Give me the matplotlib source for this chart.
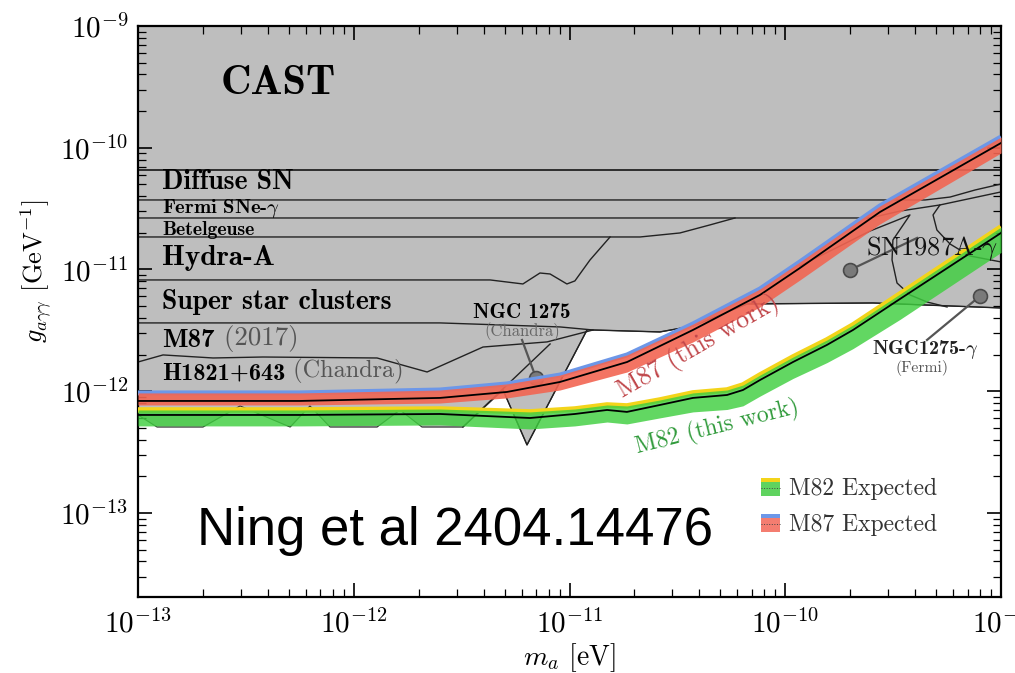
import numpy as np
import matplotlib
matplotlib.use("Agg")
import matplotlib.pyplot as plt
from matplotlib.legend_handler import HandlerBase
from matplotlib.patches import Rectangle
from matplotlib.lines import Line2D

plt.rcParams['mathtext.fontset'] = 'cm'
plt.rcParams['font.family'] = 'cmr10'
plt.rcParams['axes.formatter.use_mathtext'] = True

# ---------------- data (log10 m_a [eV], log10 g [GeV^-1]) ----------------
# M87 (this work): observed limit and expected band
m87_logm = [-13.0, -12.249, -11.600, -11.290, -11.044, -10.733, -10.428, -10.117, -9.932, -9.561, -9.0]
m87_obs = [-12.080, -12.080, -12.055, -12.006, -11.924, -11.760, -11.497, -11.209, -10.988, -10.528, -9.961]
m87_exp_hi = [-12.014, -12.014, -11.990, -11.940, -11.867, -11.702, -11.448, -11.160, -10.938, -10.478, -9.912]
m87_exp_lo = [-12.113, -12.113, -12.097, -12.055, -11.990, -11.842, -11.595, -11.308, -11.086, -10.626, -10.043]

# M82 (this work): observed limit and expected band
m82_logm = [-13.0, -12.249, -11.600, -11.183, -10.975, -10.826, -10.734, -10.581, -10.428, -10.270,
            -10.196, -10.117, -9.964, -9.807, -9.686, -9.468, -9.0]
m82_obs = [-12.195, -12.195, -12.187, -12.220, -12.187, -12.154, -12.170, -12.113, -12.055, -12.031,
           -11.990, -11.908, -11.760, -11.620, -11.497, -11.242, -10.700]
m82_exp_hi = [-12.154, -12.154, -12.146, -12.170, -12.146, -12.113, -12.121, -12.072, -12.014, -11.990,
              -11.949, -11.867, -11.719, -11.579, -11.456, -11.201, -10.651]
m82_exp_lo = [-12.285, -12.285, -12.277, -12.310, -12.285, -12.253, -12.269, -12.219, -12.170, -12.150,
              -12.120, -12.040, -11.895, -11.765, -11.650, -11.410, -10.860]

# lower edge of the union of previously excluded regions (grey)
excl_logm = [-13.0, -12.912, -12.699, -12.527, -12.295, -12.203, -12.110, -11.892, -11.786, -11.684,
             -11.494, -11.308, -11.197, -10.919, -10.891, -10.581, -10.428, -10.302, -10.177, -9.593, -9.0]
excl_logg = [-12.195, -12.294, -12.294, -12.121, -12.294, -12.121, -12.294, -12.294, -12.154, -12.294,
             -12.294, -11.990, -12.441, -11.497, -11.497, -11.513, -11.464, -11.374, -11.283, -11.275, -11.316]

# individual bounds
cast_g = 6.6e-11
diffsn_logm = [-13.0, -9.352, -9.236, -9.120, -9.0]
diffsn_logg = [-10.429, -10.429, -10.405, -10.347, -10.298]
fermisn_logm = [-13.0, -9.607, -9.468, -9.283, -9.0]
fermisn_logg = [-10.577, -10.577, -10.520, -10.470, -10.363]
betel_logm = [-13.0, -10.673, -10.488, -10.349, -10.233]
betel_logg = [-10.733, -10.733, -10.700, -10.634, -10.577]
hydra_logm = [-13.0, -11.368, -11.216, -11.137, -11.090, -11.012, -10.975, -10.905, -10.812]
hydra_logg = [-11.086, -11.086, -11.119, -11.029, -11.037, -11.119, -11.094, -10.922, -10.733]
ssc_logm = [-13.0, -11.600, -11.044, -10.891, -10.581, -10.428, -10.302, -10.177, -9.593, -9.0]
ssc_logg = [-11.439, -11.439, -11.472, -11.497, -11.513, -11.464, -11.374, -11.283, -11.275, -11.316]
m87old_logm = [-13.0, -12.884, -12.652, -12.421, -11.892, -11.660, -11.401, -11.104, -10.891]
m87old_logg = [-11.760, -11.702, -11.727, -11.719, -11.727, -11.842, -11.637, -11.595, -11.497]
h1821_edge_logm = [-11.494, -11.090]
h1821_edge_logg = [-12.294, -11.612]
ngc_v_logm = [-11.308, -11.197, -10.919]
ngc_v_logg = [-11.990, -12.441, -11.497]
sn87a_a_logm = [-9.932, -9.746, -9.607, -9.491, -9.422, -9.501, -9.505, -9.482, -9.422, -9.343, -9.250]
sn87a_a_logg = [-10.971, -10.807, -10.684, -10.602, -10.552, -10.758, -10.922, -11.111, -11.209, -11.267, -11.308]
sn87a_b_logm = [-9.283, -9.315, -9.297, -9.236, -9.144, -9.0]
sn87a_b_logg = [-10.470, -10.552, -10.676, -10.791, -10.889, -10.938]

# marker points with their leader-line ends
ngc_chandra_pt = (-11.155, -11.891); ngc_chandra_lead = (-11.220, -11.579)
sn87a_pt = (-9.700, -11.004); sn87a_lead = (-9.389, -10.741)
ngc_fermi_pt = (-9.097, -11.218); ngc_fermi_lead = (-9.343, -11.579)

xticks = [1e-13, 1e-12, 1e-11, 1e-10, 1e-9]
yticks = [1e-13, 1e-12, 1e-11, 1e-10, 1e-9]

def p(a):
    return 10 ** np.asarray(a, dtype=float)

# ---------------- figure ----------------
fig = plt.figure(figsize=(10.15, 6.73), dpi=100)
ax = fig.add_axes([138/1015, 1-597/673, 863/1015, 571/673])
ax.set_xscale('log'); ax.set_yscale('log')
ax.set_xlim(1e-13, 1e-9)
ax.set_ylim(2.04e-14, 1e-9)

GREY = '#bebebe'
ax.fill_between(p(excl_logm), p(excl_logg), 1e-9, color=GREY, lw=0, zorder=1)
ax.plot(p(excl_logm), p(excl_logg), color='#333333', lw=0.8, zorder=2)

lk = dict(color='#222222', lw=1.0, zorder=2)
ax.axhline(cast_g, color='#222222', lw=1.3, zorder=2)
for xs, ys in [(diffsn_logm, diffsn_logg), (fermisn_logm, fermisn_logg), (betel_logm, betel_logg),
               (hydra_logm, hydra_logg), (ssc_logm, ssc_logg), (m87old_logm, m87old_logg),
               (h1821_edge_logm, h1821_edge_logg), (ngc_v_logm, ngc_v_logg),
               (sn87a_a_logm, sn87a_a_logg), (sn87a_b_logm, sn87a_b_logg)]:
    ax.plot(p(xs), p(ys), **lk)

# leader lines and markers
for pt, ld in [(ngc_chandra_pt, ngc_chandra_lead), (sn87a_pt, sn87a_lead), (ngc_fermi_pt, ngc_fermi_lead)]:
    ax.plot(p([pt[0], ld[0]]), p([pt[1], ld[1]]), color='#555555', lw=1.6, zorder=3)
    ax.plot(p([pt[0]]), p([pt[1]]), 'o', ms=10, mfc='#7a7a7a', mec='#4a4a4a', mew=1.2, zorder=4)

# bands
RED, BLUE = '#f26552', '#6d97e8'
GREEN, YELLOW = '#3fcf3f', '#f3d41a'
ax.plot(p(m87_logm), p(m87_exp_hi), color=BLUE, lw=3.6, zorder=5, solid_capstyle='butt')
ax.fill_between(p(m87_logm), p(m87_exp_lo), p(m87_exp_hi), color=RED, alpha=0.9, lw=0, zorder=6)
ax.plot(p(m87_logm), p(m87_obs), color='black', lw=1.3, zorder=7)

ax.plot(p(m82_logm), p(m82_exp_hi), color=YELLOW, lw=4.0, zorder=5, solid_capstyle='butt')
ax.fill_between(p(m82_logm), p(m82_exp_lo), p(m82_exp_hi), color=GREEN, alpha=0.82, lw=0, zorder=6)
ax.plot(p(m82_logm), p(m82_obs), color='black', lw=1.3, zorder=7)

# ---------------- texts ----------------
T = ax.transAxes
ax.text(0.162, 0.900, 'CAST', transform=T, family='cmb10', fontsize=30.5, ha='center', va='center', zorder=8)
lx = 0.028
ax.text(lx, 0.727, 'Diffuse SN', transform=T, family='cmb10', fontsize=20, va='center', zorder=8)
ax.text(lx, 0.681, r'Fermi SNe-$\gamma$', transform=T, family='cmb10', fontsize=14.8, va='center', zorder=8)
ax.text(lx, 0.643, 'Betelgeuse', transform=T, family='cmb10', fontsize=14.2, va='center', zorder=8)
ax.text(lx, 0.594, 'Hydra-A', transform=T, family='cmb10', fontsize=21, va='center', zorder=8)
ax.text(lx, 0.517, 'Super star clusters', transform=T, family='cmb10', fontsize=20, va='center', zorder=8)
t1 = ax.text(lx, 0.450, 'M87', transform=T, family='cmb10', fontsize=19.4, va='center', zorder=8)
ax.annotate(' (2017)', xy=(1, 0), xycoords=t1, family='cmr10', fontsize=19.4, color='#555555',
            va='bottom', ha='left', zorder=8)
t2 = ax.text(lx, 0.392, 'H1821+643', transform=T, family='cmb10', fontsize=17.5, va='center', zorder=8)
ax.annotate(' (Chandra)', xy=(1, 0), xycoords=t2, family='cmr10', fontsize=17.5, color='#555555',
            va='bottom', ha='left', zorder=8)

ax.text(0.445, 0.499, 'NGC 1275', transform=T, family='cmb10', fontsize=15.2, ha='center', va='center', zorder=8)
ax.text(0.445, 0.464, '(Chandra)', transform=T, family='cmr10', fontsize=12, color='#666666',
        ha='center', va='center', zorder=8)
ax.text(0.920, 0.610, r'SN1987A-$\gamma$', transform=T, family='cmr10', fontsize=19, ha='center',
        va='center', color='#111111', zorder=8)
ax.text(0.912, 0.433, r'NGC1275-$\gamma$', transform=T, family='cmb10', fontsize=14.5, ha='center',
        va='center', color='#222222', zorder=8)
ax.text(0.9085, 0.401, '(Fermi)', transform=T, family='cmr10', fontsize=11.3, ha='center',
        va='center', color='#555555', zorder=8)

ax.text(0.649, 0.438, 'M87 (this work)', transform=T, family='cmr10', fontsize=18.5, color='#c0464a',
        rotation=30, ha='center', va='center', rotation_mode='anchor', zorder=8)
ax.text(0.671, 0.296, 'M82 (this work)', transform=T, family='cmr10', fontsize=17, color='#2f9a3a',
        rotation=14, ha='center', va='center', rotation_mode='anchor', zorder=8)

ax.text(0.0684, 0.115, 'Ning et al 2404.14476', transform=T, family='Liberation Sans', fontsize=38,
        ha='left', va='center', color='black', zorder=8)

# ---------------- legend ----------------
class BandHandler(HandlerBase):
    def __init__(self, body, top):
        super().__init__()
        self.body, self.top = body, top
    def create_artists(self, legend, orig_handle, xdescent, ydescent, width, height, fontsize, trans):
        x0, y0 = -xdescent, -ydescent
        r = Rectangle((x0, y0), width, height * 0.78, fc=self.body, ec='none', transform=trans)
        t = Rectangle((x0, y0 + height * 0.78), width, height * 0.22, fc=self.top, ec='none', transform=trans)
        l = Line2D([x0, x0 + width], [y0 + height * 0.45] * 2, color='#444444', ls=':', lw=0.7, transform=trans)
        return [r, t, l]

h82 = Rectangle((0, 0), 1, 1)
h87 = Rectangle((0, 0), 1, 1)
leg = ax.legend([h82, h87], ['M82 Expected', 'M87 Expected'],
                handler_map={h82: BandHandler('#5fd35f', YELLOW), h87: BandHandler('#f47d70', BLUE)},
                loc='upper left', bbox_to_anchor=(0.722, 0.208), frameon=False, borderpad=0,
                borderaxespad=0, handlelength=0.8, handleheight=0.75, handletextpad=0.4,
                labelspacing=0.58, prop={'family': 'cmr10', 'size': 17})
for txt in leg.get_texts():
    txt.set_color('#333333')

# ---------------- axes ----------------
ax.set_xticks(xticks); ax.set_yticks(yticks)
ax.tick_params(which='both', direction='in', top=True, right=True, labelsize=21)
ax.tick_params(which='major', length=10, width=1.2)
ax.tick_params(which='minor', length=6, width=0.9)
ax.tick_params(axis='x', pad=9)
ax.tick_params(axis='y', pad=7)
for s in ax.spines.values():
    s.set_linewidth(1.6)
ax.set_xlabel(r'$m_a$ [eV]', fontsize=20)
ax.set_ylabel(r'$g_{a\gamma\gamma}$ [GeV$^{-1}$]', fontsize=19)
ax.xaxis.set_label_coords(0.5, -0.078)
ax.yaxis.set_label_coords(-0.098, 0.571)

fig.savefig('out.png', dpi=100)
